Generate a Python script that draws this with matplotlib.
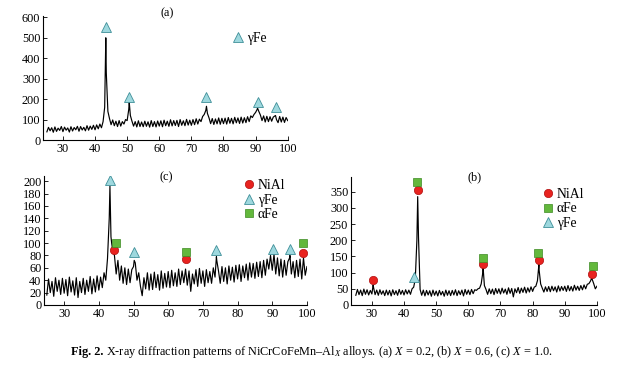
import numpy as np
import matplotlib
matplotlib.use("Agg")
import matplotlib.pyplot as plt
from matplotlib.lines import Line2D

plt.rcParams['font.family'] = ['Liberation Serif', 'DejaVu Serif']
plt.rcParams['mathtext.fontset'] = 'custom'
plt.rcParams['mathtext.rm'] = 'Liberation Serif'
plt.rcParams['mathtext.it'] = 'Liberation Serif:italic'

# ---------------- data ----------------
# 2-theta sampling grid (deg), 0.5 deg step, 25..100
grid_start, grid_stop, grid_step = 25.0, 100.0, 0.5

# (a) X = 0.2
a_counts = [40, 62, 45, 60, 38, 64, 42, 58, 47, 66,
            41, 63, 48, 59, 39, 65, 44, 61, 50, 67,
            43, 66, 49, 62, 45, 70, 48, 68, 52, 72,
            50, 74, 55, 78, 60, 90, 160, 330, 140, 105,
            75, 98, 70, 92, 66, 95, 68, 90, 78, 100,
            95, 150, 120, 92, 68, 90, 64, 94, 66, 88,
            65, 92, 67, 89, 63, 95, 66, 90, 64, 93,
            68, 94, 65, 97, 70, 92, 67, 99, 69, 95,
            71, 96, 66, 100, 72, 94, 70, 101, 73, 97,
            72, 100, 75, 104, 78, 102, 90, 115, 125, 145,
            130, 108, 80, 105, 76, 103, 79, 108, 77, 106,
            80, 107, 78, 110, 82, 106, 79, 111, 84, 108,
            81, 112, 83, 109, 85, 114, 90, 118, 110, 125,
            135, 150, 140, 122, 95, 118, 88, 116, 90, 114,
            92, 112, 118, 100, 85, 115, 88, 112, 86, 110,
            95]
a_peak_x = [43.35, 50.65, 74.7, 90.6, 96.2]
a_peak_y = [500, 185, 165, 156, 120]
a_gfe_x = [43.4, 50.7, 74.7, 90.6, 96.2]
a_gfe_y = [555, 212, 210, 186, 162]

# (b) X = 0.6
b_counts = [30, 48, 32, 46, 29, 49, 33, 47, 31, 45,
            34, 55, 32, 46, 30, 47, 33, 44, 29, 46,
            31, 45, 28, 47, 32, 44, 30, 48, 33, 45,
            31, 47, 34, 46, 33, 50, 55, 80, 200, 210,
            48, 30, 46, 28, 45, 31, 44, 27, 46, 30,
            43, 28, 45, 31, 42, 27, 46, 30, 44, 29,
            45, 31, 47, 29, 44, 32, 46, 28, 48, 33,
            46, 32, 48, 35, 47, 45, 50, 52, 65, 100,
            60, 48, 33, 50, 35, 49, 32, 51, 36, 50,
            34, 52, 37, 49, 33, 53, 36, 51, 25, 50,
            38, 54, 36, 52, 39, 55, 37, 53, 40, 56,
            42, 55, 58, 75, 110, 65, 52, 40, 56, 42,
            57, 41, 58, 44, 56, 40, 59, 43, 57, 45,
            58, 42, 60, 44, 57, 43, 61, 46, 58, 45,
            60, 47, 62, 50, 64, 66, 74, 80, 66, 50,
            58]
b_peak_x = [30.4, 44.25, 64.6, 81.95, 98.4]
b_peak_y = [62, 335, 115, 125, 84]
b_nial_x = [30.4, 44.2, 64.5, 82.0, 98.5]
b_nial_y = [76, 357, 126, 138, 97]
b_afe_x = [44.1, 64.5, 81.7, 98.8]
b_afe_y = [379, 146, 160, 119]
b_gfe_x = [43.2]
b_gfe_y = [86]

# (c) X = 1.0
c_counts = [16, 42, 20, 38, 14, 44, 22, 40, 17, 43,
            19, 41, 15, 45, 21, 39, 16, 44, 12, 38,
            20, 43, 17, 40, 22, 46, 18, 42, 21, 47,
            24, 45, 28, 52, 40, 75, 140, 110, 88, 80,
            50, 72, 40, 63, 35, 60, 33, 58, 36, 57,
            62, 68, 40, 52, 30, 15, 44, 26, 52, 24,
            50, 25, 53, 28, 49, 24, 55, 27, 51, 29,
            54, 28, 56, 31, 52, 30, 58, 33, 55, 36,
            58, 32, 55, 22, 50, 34, 57, 30, 59, 35,
            55, 30, 57, 36, 54, 35, 60, 45, 72, 55,
            35, 62, 38, 60, 34, 63, 40, 61, 37, 64,
            42, 65, 38, 63, 44, 66, 40, 68, 45, 67,
            43, 69, 46, 70, 44, 72, 48, 74, 58, 80,
            56, 82, 50, 76, 47, 74, 45, 72, 48, 70,
            76, 50, 70, 44, 72, 46, 74, 42, 76, 48,
            62]
c_peak_x = [43.2, 43.7, 50.2, 73.9, 95.1]
c_peak_y = [192, 100, 72, 78, 80]
c_nial_x = [44.3, 65.2, 98.8]
c_nial_y = [88, 74, 84]
c_afe_x = [45.0, 65.1, 98.9]
c_afe_y = [100, 86, 100]
c_gfe_x = [43.3, 50.2, 73.8, 90.2, 95.1]
c_gfe_y = [201, 86, 88, 90, 90]

a_yticks = [0, 100, 200, 300, 400, 500, 600]
b_yticks = [0, 50, 100, 150, 200, 250, 300, 350]
c_yticks = list(range(0, 201, 20))
xticks = [30, 40, 50, 60, 70, 80, 90, 100]

# ---------------- styles ----------------
TRI = dict(marker='^', ms=6.5, mfc='#9ed8de', mec='#3f8f99', mew=0.6, ls='none')
CIR = dict(marker='o', ms=6.0, mfc='#e8231f', mec='#b01010', mew=0.5, ls='none')
SQR = dict(marker='s', ms=5.3, mfc='#63b83c', mec='#3d8a22', mew=0.5, ls='none')
LINE = dict(color='black', lw=0.85)


def merged(counts, px, py):
    gx = np.arange(grid_start, grid_stop + 1e-9, grid_step)
    x = np.concatenate([gx, np.asarray(px, float)])
    y = np.concatenate([np.asarray(counts, float), np.asarray(py, float)])
    order = np.argsort(x, kind='stable')
    return x[order], y[order]


def style_ax(ax, xlim, ylim, yticks):
    ax.set_xlim(*xlim)
    ax.set_ylim(*ylim)
    ax.set_xticks(xticks)
    ax.set_yticks(yticks)
    for s in ('top', 'right'):
        ax.spines[s].set_visible(False)
    for s in ('left', 'bottom'):
        ax.spines[s].set_linewidth(0.8)
    ax.tick_params(direction='in', length=3, width=0.6, labelsize=8.8, pad=2)


fig = plt.figure(figsize=(6.29, 3.67), dpi=100)

# (a)
axa = fig.add_axes([0.0684, 0.6185, 0.389, 0.337])
x, y = merged(a_counts, a_peak_x, a_peak_y)
axa.plot(x, y, **LINE)
axa.plot(a_gfe_x, a_gfe_y, **TRI)
style_ax(axa, (23.8, 100), (0, 605), a_yticks)
axa.text(0.506, 1.024, '(a)', transform=axa.transAxes, ha='center', va='center', fontsize=8.8)
axa.legend([Line2D([], [], **TRI)], ['γFe'], loc='center left', bbox_to_anchor=(0.777, 0.821),
           frameon=False, fontsize=9.8, handlelength=0.7, handletextpad=0.3, borderpad=0,
           borderaxespad=0)

# (c)
axc = fig.add_axes([0.070, 0.169, 0.418, 0.351])
x, y = merged(c_counts, c_peak_x, c_peak_y)
axc.plot(x, y, **LINE)
axc.plot(c_nial_x, c_nial_y, **CIR)
axc.plot(c_gfe_x, c_gfe_y, **TRI)
axc.plot(c_afe_x, c_afe_y, **SQR)
style_ax(axc, (24.2, 100), (0, 208), c_yticks)
axc.text(0.464, 0.992, '(c)', transform=axc.transAxes, ha='center', va='center', fontsize=8.8)
axc.legend([Line2D([], [], **CIR), Line2D([], [], **TRI), Line2D([], [], **SQR)],
           ['NiAl', 'γFe', 'αFe'], loc='center left', bbox_to_anchor=(0.762, 0.814),
           frameon=False, fontsize=9.8, handlelength=0.7, handletextpad=0.3, borderpad=0,
           borderaxespad=0, labelspacing=0.1)

# (b)
axb = fig.add_axes([0.558, 0.169, 0.391, 0.349])
x, y = merged(b_counts, b_peak_x, b_peak_y)
axb.plot(x, y, **LINE)
axb.plot(b_gfe_x, b_gfe_y, **TRI)
axb.plot(b_nial_x, b_nial_y, **CIR)
axb.plot(b_afe_x, b_afe_y, **SQR)
style_ax(axb, (23.5, 100), (0, 396), b_yticks)
axb.text(0.504, 1.0, '(b)', transform=axb.transAxes, ha='center', va='center', fontsize=8.8)
axb.legend([Line2D([], [], **CIR), Line2D([], [], **SQR), Line2D([], [], **TRI)],
           ['NiAl', 'αFe', 'γFe'], loc='center left', bbox_to_anchor=(0.782, 0.75),
           frameon=False, fontsize=9.8, handlelength=0.7, handletextpad=0.3, borderpad=0,
           borderaxespad=0, labelspacing=0.1)

# caption
fig.text(0.164, 0.041, 'Fig. 2.', ha='right', va='center', fontsize=8.8, fontweight='bold')
fig.text(0.169, 0.041,
         'X-ray diffraction patterns of NiCrCoFeMn–Al$_{X}$ alloys. (a) $X$ = 0.2, '
         '(b) $X$ = 0.6, (c) $X$ = 1.0.', ha='left', va='center', fontsize=8.8)

fig.savefig('out.png', dpi=100)
